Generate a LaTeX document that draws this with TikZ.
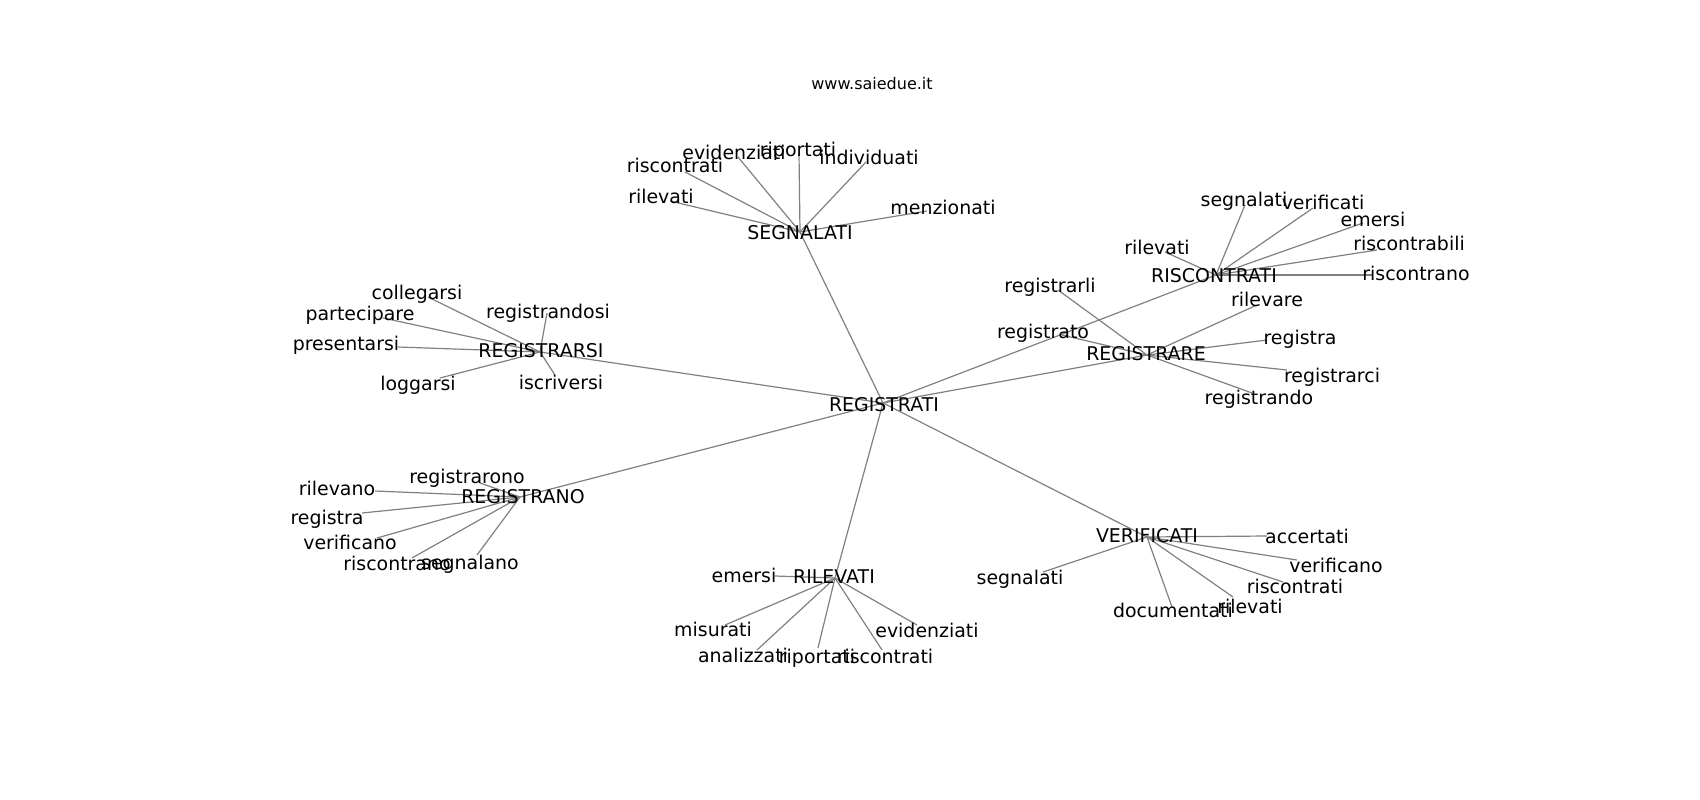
\documentclass[tikz,border=0pt]{standalone}
\usepackage{fontspec}
\setmainfont{DejaVu Sans}
\begin{document}
\begin{tikzpicture}[x=0.75pt,y=-0.75pt,
  lbl/.style={font=\fontsize{14.2}{16}\selectfont, inner sep=0pt, text height=0.73em, text depth=0.24em, anchor=center, yshift=-3pt},
  ttl/.style={font=\fontsize{12}{14}\selectfont, inner sep=0pt, anchor=center, yshift=-1pt},
  conn/.style={draw=black!50, line width=0.9pt}]
\useasboundingbox (0,0) rectangle (1700,800);
% hub points
\coordinate (REGp) at (883,403);
\coordinate (SEGp) at (800,232);
\coordinate (RISp) at (1216,275);
\coordinate (RGEp) at (1147,355);
\coordinate (RSIp) at (540,352);
\coordinate (RNOp) at (520,497);
\coordinate (RILp) at (835,578);
\coordinate (VERp) at (1147,537);
% leaf points
\coordinate (s1p) at (799,153);
\coordinate (s2p) at (738,157);
\coordinate (s3p) at (866,162);
\coordinate (s4p) at (685,172);
\coordinate (s5p) at (670,201);
\coordinate (s6p) at (927,211);
\coordinate (c1p) at (1245,205);
\coordinate (c2p) at (1313,208);
\coordinate (c3p) at (1363,223);
\coordinate (c4p) at (1377,250);
\coordinate (c5p) at (1373,275);
\coordinate (c6p) at (1165,252);
\coordinate (r1p) at (1058,290);
\coordinate (r2p) at (1062,335);
\coordinate (r3p) at (1257,305);
\coordinate (r4p) at (1267,340);
\coordinate (r5p) at (1287,370);
\coordinate (r6p) at (1252,393);
\coordinate (a1p) at (428,297);
\coordinate (a2p) at (547,313);
\coordinate (a3p) at (383,318);
\coordinate (a4p) at (398,347);
\coordinate (a5p) at (440,378);
\coordinate (a6p) at (555,375);
\coordinate (n1p) at (480,483);
\coordinate (n2p) at (375,491);
\coordinate (n3p) at (362,513);
\coordinate (n4p) at (377,538);
\coordinate (n5p) at (412,558);
\coordinate (n6p) at (477,555);
\coordinate (v1p) at (775,576);
\coordinate (v2p) at (725,625);
\coordinate (v3p) at (757,650);
\coordinate (v4p) at (818,648);
\coordinate (v5p) at (882,650);
\coordinate (v6p) at (917,625);
\coordinate (f1p) at (1267,536);
\coordinate (f2p) at (1297,560);
\coordinate (f3p) at (1043,572);
\coordinate (f4p) at (1172,607);
\coordinate (f5p) at (1233,597);
\coordinate (f6p) at (1283,582);
% edges
\foreach \h in {SEGp,RISp,RGEp,RSIp,RNOp,RILp,VERp} \draw[conn] (REGp) -- (\h);
\foreach \l in {s1p,s2p,s3p,s4p,s5p,s6p} \draw[conn] (SEGp) -- (\l);
\foreach \l in {c1p,c2p,c3p,c4p,c5p,c6p} \draw[conn] (RISp) -- (\l);
\foreach \l in {r1p,r2p,r3p,r4p,r5p,r6p} \draw[conn] (RGEp) -- (\l);
\foreach \l in {a1p,a2p,a3p,a4p,a5p,a6p} \draw[conn] (RSIp) -- (\l);
\foreach \l in {n1p,n2p,n3p,n4p,n5p,n6p} \draw[conn] (RNOp) -- (\l);
\foreach \l in {v1p,v2p,v3p,v4p,v5p,v6p} \draw[conn] (RILp) -- (\l);
\foreach \l in {f1p,f2p,f3p,f4p,f5p,f6p} \draw[conn] (VERp) -- (\l);
% title
\node[ttl] (title) at (872,82) {www.saiedue.it};
% hub labels
\node[lbl] (REG) at (884,404) {REGISTRATI};
\node[lbl] (SEG) at (800,232) {SEGNALATI};
\node[lbl] (RIS) at (1214,275) {RISCONTRATI};
\node[lbl] (RGE) at (1146,353) {REGISTRARE};
\node[lbl] (RSI) at (541,350) {REGISTRARSI};
\node[lbl] (RNO) at (523,496) {REGISTRANO};
\node[lbl] (RIL) at (834,576) {RILEVATI};
\node[lbl] (VER) at (1147,535) {VERIFICATI};
% leaf labels
\node[lbl] (s1) at (798,149) {riportati};
\node[lbl] (s2) at (734,152) {evidenziati};
\node[lbl] (s3) at (869,157) {individuati};
\node[lbl] (s4) at (675,165) {riscontrati};
\node[lbl] (s5) at (661,196) {rilevati};
\node[lbl] (s6) at (943,207) {menzionati};
\node[lbl] (c1) at (1244,199) {segnalati};
\node[lbl] (c2) at (1323,202) {verificati};
\node[lbl] (c3) at (1373,219) {emersi};
\node[lbl] (c4) at (1409,243) {riscontrabili};
\node[lbl] (c5) at (1416,273) {riscontrano};
\node[lbl] (c6) at (1157,247) {rilevati};
\node[lbl] (r1) at (1050,285) {registrarli};
\node[lbl] (r2) at (1043,331) {registrato};
\node[lbl] (r3) at (1267,299) {rilevare};
\node[lbl] (r4) at (1300,337) {registra};
\node[lbl] (r5) at (1332,375) {registrarci};
\node[lbl] (r6) at (1259,397) {registrando};
\node[lbl] (a1) at (417,292) {collegarsi};
\node[lbl] (a2) at (548,311) {registrandosi};
\node[lbl] (a3) at (360,313) {partecipare};
\node[lbl] (a4) at (346,343) {presentarsi};
\node[lbl] (a5) at (418,383) {loggarsi};
\node[lbl] (a6) at (561,382) {iscriversi};
\node[lbl] (n1) at (467,476) {registrarono};
\node[lbl] (n2) at (337,488) {rilevano};
\node[lbl] (n3) at (327,517) {registra};
\node[lbl] (n4) at (350,542) {verificano};
\node[lbl] (n5) at (397,563) {riscontrano};
\node[lbl] (n6) at (470,562) {segnalano};
\node[lbl] (v1) at (744,575) {emersi};
\node[lbl] (v2) at (713,629) {misurati};
\node[lbl] (v3) at (743,655) {analizzati};
\node[lbl] (v4) at (817,656) {riportati};
\node[lbl] (v5) at (885,656) {riscontrati};
\node[lbl] (v6) at (927,630) {evidenziati};
\node[lbl] (f1) at (1307,536) {accertati};
\node[lbl] (f2) at (1336,565) {verificano};
\node[lbl] (f3) at (1020,577) {segnalati};
\node[lbl] (f4) at (1173,610) {documentati};
\node[lbl] (f5) at (1250,606) {rilevati};
\node[lbl] (f6) at (1295,586) {riscontrati};
\end{tikzpicture}
\end{document}
